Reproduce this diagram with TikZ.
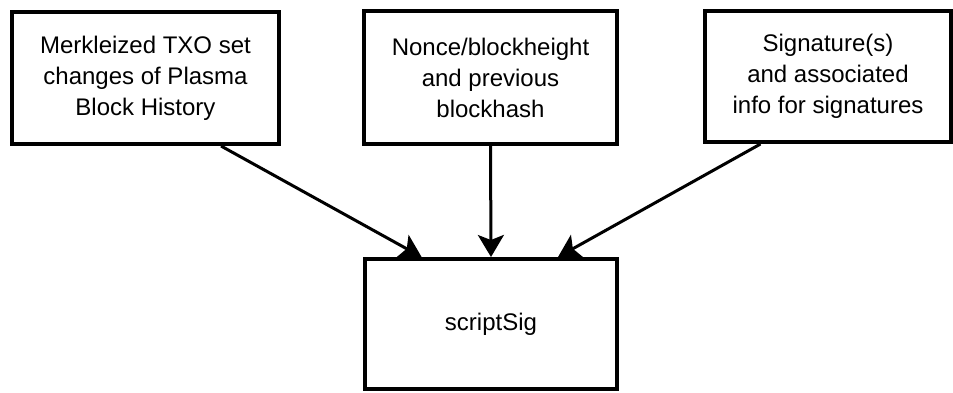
\documentclass[tikz,border=0pt]{standalone}
\usepackage{fontspec}
\setmainfont{Liberation Sans}
\usetikzlibrary{arrows.meta}

\tikzset{
  bloc/.style={draw, line width=4pt, rectangle, align=center,
    font=\fontsize{24}{31}\selectfont, inner sep=0pt},
  fleche/.style={line width=3pt, -{Stealth[length=22pt,width=26pt,inset=5pt]}}
}

\begin{document}
\begin{tikzpicture}[x=1pt, y=-1pt]

\useasboundingbox (0,0) rectangle (953,392);

% Blocs du haut
\node[bloc, minimum width=267pt, minimum height=132pt] (merkle) at (145.5,78)
  {Merkleized TXO set\\changes of Plasma\\Block History};
\node[bloc, minimum width=253pt, minimum height=133pt] (nonce) at (490.5,77.5)
  {Nonce/blockheight\\and previous\\blockhash};
\node[bloc, minimum width=246pt, minimum height=131pt] (sig) at (828,76.5)
  {Signature(s)\\and associated\\info for signatures};

% Bloc du bas
\node[bloc, minimum width=252pt, minimum height=130pt] (script) at (491,324)
  {scriptSig};

% Fleches
\draw[fleche] (merkle.-42) -- (script.136);
\draw[fleche] (nonce.south) -- (script.north);
\draw[fleche] (sig.-135) -- (script.45);

\end{tikzpicture}
\end{document}
